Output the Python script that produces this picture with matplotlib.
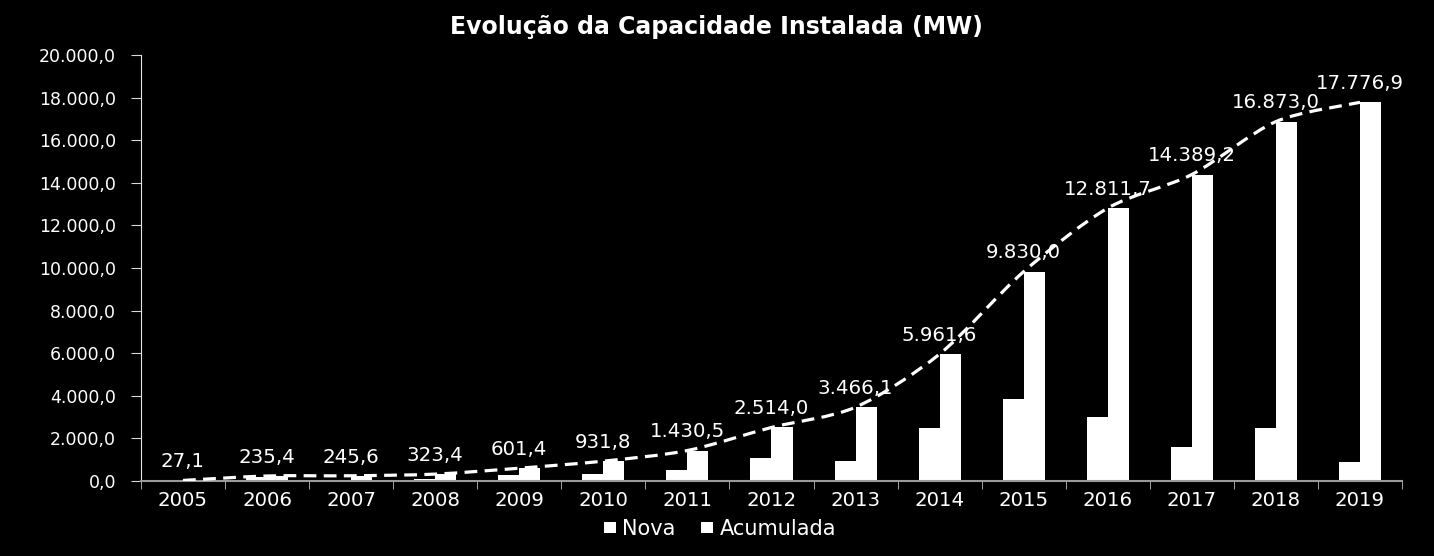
import matplotlib
matplotlib.use('Agg')
import matplotlib.pyplot as plt
from matplotlib.path import Path
from matplotlib.patches import PathPatch
import numpy as np

# the reference uses a wide sans face; DejaVu Sans is the closest wide one
plt.rcParams['font.family'] = ['DejaVu Sans']

# Data
years = ['2005', '2006', '2007', '2008', '2009', '2010', '2011', '2012',
         '2013', '2014', '2015', '2016', '2017', '2018', '2019']
nova = [27.1, 208.3, 10.2, 77.8, 278.0, 330.4, 498.7, 1083.5,
        952.1, 2495.5, 3868.4, 2981.7, 1577.5, 2483.8, 903.9]
acumulada = [27.1, 235.4, 245.6, 323.4, 601.4, 931.8, 1430.5, 2514.0,
             3466.1, 5961.6, 9830.0, 12811.7, 14389.2, 16873.0, 17776.9]
y_ticks = [0, 2000, 4000, 6000, 8000, 10000, 12000, 14000, 16000, 18000, 20000]


def fmt_br(v):
    s = f"{v:,.1f}"
    return s.replace(',', 'X').replace('.', ',').replace('X', '.')


def smooth_path(xs, ys, k=7.0):
    # smoothed line like Excel's: Catmull-Rom style cubic Bezier segments
    pts = np.column_stack([xs, ys])
    n = len(pts)
    verts = [pts[0]]
    codes = [Path.MOVETO]
    for i in range(n - 1):
        p0 = pts[i - 1] if i > 0 else pts[i]
        p1 = pts[i]
        p2 = pts[i + 1]
        p3 = pts[i + 2] if i + 2 < n else pts[i + 1]
        c1 = p1 + (p2 - p0) / k
        c2 = p2 - (p3 - p1) / k
        verts += [c1, c2, p2]
        codes += [Path.CURVE4] * 3
    return Path(verts, codes)


fig = plt.figure(figsize=(14.34, 5.56), dpi=100, facecolor='black')
ax = fig.add_axes([0.0983, 0.1349, 0.8794, 0.7662])
ax.set_facecolor('black')

x = np.arange(len(years))
w = 0.25
b1 = ax.bar(x - w / 2, nova, width=w, color='white', label='Nova', zorder=2)
b2 = ax.bar(x + w / 2, acumulada, width=w, color='white', label='Acumulada', zorder=2)

line = PathPatch(smooth_path(x, acumulada), facecolor='none', edgecolor='white',
                 linewidth=2.3, linestyle=(0, (4, 2.3)), zorder=3)
ax.add_patch(line)

for xi, v in zip(x, acumulada):
    ax.annotate(fmt_br(v), (xi, v), xytext=(0, 13.5), textcoords='offset points',
                ha='center', va='center', color='white', fontsize=14.2, zorder=4)

ax.set_xlim(-0.5, len(years) - 0.5)
ax.set_ylim(0, 20000)
ax.set_yticks(y_ticks)
ax.set_yticklabels([fmt_br(t) for t in y_ticks])
ax.set_xticks(x)
ax.set_xticklabels(years)
ax.set_xticks(np.arange(-0.5, len(years), 1.0), minor=True)
ax.tick_params(axis='x', which='major', length=0, pad=7.5, labelsize=14.2, colors='white')
ax.tick_params(axis='x', which='minor', length=6, color='#bfbfbf')
ax.tick_params(axis='y', length=7, color='#d9d9d9', labelsize=12.5, labelcolor='white', pad=11)

for side in ['top', 'right']:
    ax.spines[side].set_visible(False)
ax.spines['left'].set_color('#e6e6e6')
ax.spines['bottom'].set_color('#9a9a9a')
ax.spines['bottom'].set_linewidth(1.5)

fig.text(0.4993, 0.951, 'Evolução da Capacidade Instalada (MW)', ha='center', va='center',
         color='white', fontsize=17, fontweight='bold')

leg = fig.legend(handles=[b1, b2], labels=['Nova', 'Acumulada'], loc='center',
                 bbox_to_anchor=(0.502, 0.048), ncol=2, frameon=False,
                 fontsize=15, handlelength=0.6, handleheight=0.45,
                 handletextpad=0.3, columnspacing=1.2)
for t in leg.get_texts():
    t.set_color('white')

fig.savefig('out.png', dpi=100, facecolor='black')
